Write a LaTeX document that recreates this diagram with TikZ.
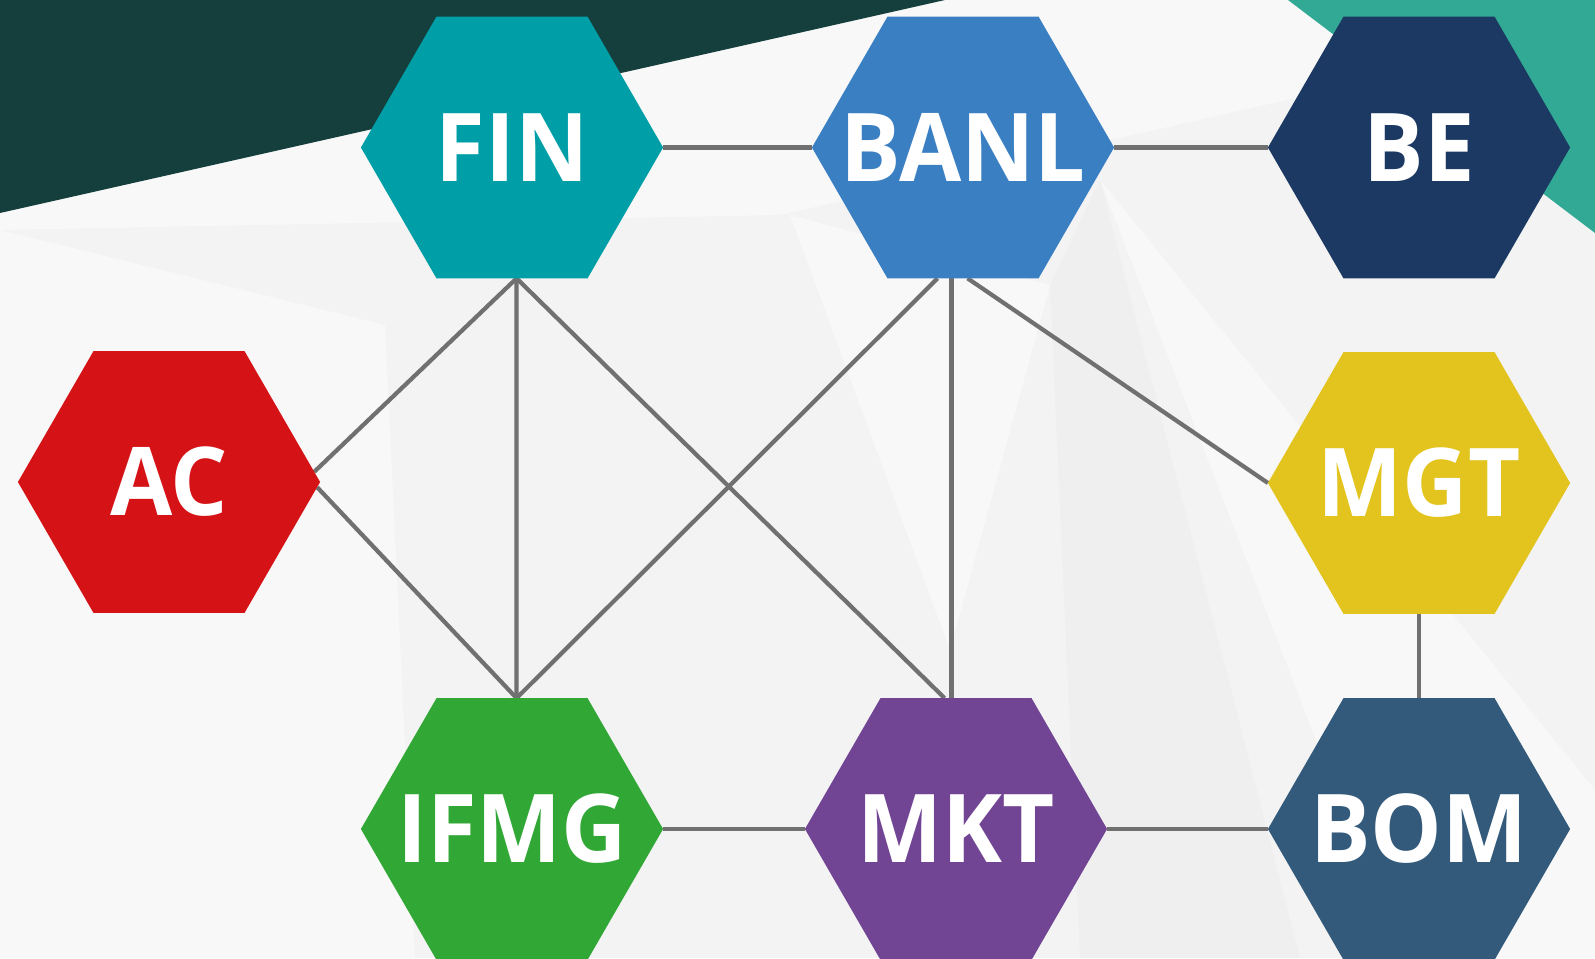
\documentclass[tikz,border=0pt]{standalone}
\usepackage{fontspec}
\newfontfamily\hexfont[FakeStretch=0.95]{Open Sans}
\usetikzlibrary{shapes.geometric}

\definecolor{finc}{HTML}{009FA7}
\definecolor{banlc}{HTML}{3B7FC3}
\definecolor{bec}{HTML}{1C3963}
\definecolor{acc}{HTML}{D51317}
\definecolor{mgtc}{HTML}{E3C41E}
\definecolor{ifmgc}{HTML}{31A736}
\definecolor{mktc}{HTML}{724594}
\definecolor{bomc}{HTML}{335A7B}
\definecolor{linkgray}{HTML}{707070}
\definecolor{darkgreen}{HTML}{143F3C}
\definecolor{seagreen}{HTML}{32A994}
\definecolor{bgA}{HTML}{F3F3F3}
\definecolor{bgB}{HTML}{F8F8F8}
\definecolor{bgC}{HTML}{EFEFEF}

\pgfdeclarelayer{bg}
\pgfdeclarelayer{edges}
\pgfsetlayers{bg,edges,main}

\newcommand{\hexlabel}[1]{\makebox[0pt]{#1}}

\tikzset{
  hex/.style={regular polygon, regular polygon sides=6, minimum size=3.02cm,
    inner sep=0pt, outer sep=0pt, fill=#1, text=white,
    font=\hexfont\bfseries\fontsize{27}{27}\selectfont},
  link/.style={draw=linkgray, line width=1.2pt}
}

\begin{document}
\begin{tikzpicture}[x=0.01cm, y=-0.01cm]
\useasboundingbox (0,0) rectangle (1595,958);

%%%%%%%%%%%%%-------------fondo
\begin{pgfonlayer}{bg}
\fill[bgA] (0,0) rectangle (1595,958);
\fill[bgB] (0,230) -- (385,325) -- (415,958) -- (0,958) -- cycle;
\fill[bgB] (790,215) -- (1050,285) -- (950,650) -- cycle;
\fill[bgC] (1050,285) -- (1080,958) -- (1300,958) -- (1100,180) -- cycle;
\fill[bgB] (1100,180) -- (1595,790) -- (1595,958) -- (1400,958) -- cycle;
\fill[bgB] (0,0) -- (1595,0) -- (1595,30) -- (780,215) -- (0,230) -- cycle;
\fill[darkgreen] (0,0) -- (945,0) -- (0,213) -- cycle;
\fill[seagreen] (1288,0) -- (1595,0) -- (1595,233) -- cycle;
\end{pgfonlayer}

%%%%%%%%%%%%%-------------hexagonos
\node[hex=finc]  (FIN)  at (512,147.5)  {\hexlabel{FIN}};
\node[hex=banlc] (BANL) at (963,147.5)  {\hexlabel{BANL}};
\node[hex=bec]   (BE)   at (1419,147.5) {\hexlabel{BE}};
\node[hex=acc]   (AC)   at (169,482)    {\hexlabel{AC}};
\node[hex=mgtc]  (MGT)  at (1419,483)   {\hexlabel{MGT}};
\node[hex=ifmgc] (IFMG) at (512,829)    {\hexlabel{IFMG}};
\node[hex=mktc]  (MKT)  at (956,829)    {\hexlabel{MKT}};
\node[hex=bomc]  (BOM)  at (1419,829)   {\hexlabel{BOM}};

%%%%%%%%%%%%%-------------conexiones
\begin{pgfonlayer}{edges}
\draw[link] (FIN.east) -- (BANL.west);
\draw[link] (BANL.east) -- (BE.west);
\draw[link] (FIN.272) -- (AC.4);
\draw[link] (AC.-2) -- (IFMG.88);
\draw[link] (FIN.272) -- (IFMG.88);
\draw[link] (FIN.272) -- (MKT.95);
\draw[link] (BANL.259) -- (IFMG.88);
\draw[link] (MKT.92 |- BANL.south) -- (MKT.92);
\draw[link] (BANL.272) -- (MGT.west);
\draw[link] (MGT.south) -- (BOM.north);
\draw[link] (IFMG.east) -- (MKT.west);
\draw[link] (MKT.east) -- (BOM.west);
\end{pgfonlayer}

\end{tikzpicture}
\end{document}
